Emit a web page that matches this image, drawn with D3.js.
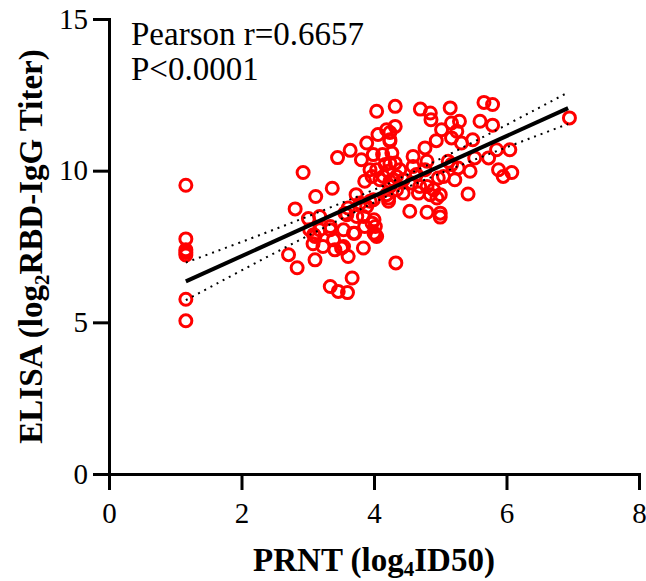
<!DOCTYPE html>
<html>
<head>
<meta charset="utf-8">
<script src="https://cdn.jsdelivr.net/npm/d3@7"></script>
<style>
  body { margin: 0; background: #fff; }
  text { font-family: "Liberation Serif", "Times New Roman", serif; }
</style>
</head>
<body>
<div id="chart"></div>
<script>
// PRNT (log4 ID50) values
var prntValues = [
  1.16, 1.16, 1.16, 1.16, 1.16, 1.16, 1.16,
  2.71, 2.84, 2.93, 2.81, 3.01, 3.18, 3.12, 3.37, 3.45, 3.64,
  3.09, 3.08, 3.11, 3.18, 3.34, 3.39, 3.54, 3.61, 3.54,
  3.34, 3.46, 3.60, 3.67, 3.84, 3.71, 3.61, 3.59, 3.73, 3.89,
  3.97, 4.00, 4.04, 3.84, 3.86, 3.81, 3.89, 4.04, 4.32, 4.06,
  4.24, 4.32, 4.19, 3.94, 4.04, 4.14, 4.24, 4.29, 4.22, 4.33, 3.99,
  4.70, 4.85, 4.86, 5.15, 5.66, 5.79, 6.95, 5.60, 5.79, 5.17, 5.29,
  5.25, 5.02, 5.17, 5.32, 5.49, 4.94, 4.77, 4.24, 4.24, 3.99, 4.13,
  4.27, 4.32, 4.17, 4.22, 3.97, 4.09, 4.24, 4.34, 4.39, 4.44, 4.24,
  4.34, 4.19, 4.22, 4.44, 4.54, 4.59, 4.59, 4.64, 4.57, 4.80, 4.77,
  4.69, 4.67, 4.80, 4.85, 4.90, 4.95, 5.00, 4.80, 5.00, 5.00, 4.97,
  5.05, 5.12, 5.17, 5.27, 5.22, 5.45, 5.42, 5.52, 5.73, 5.85, 6.05,
  5.88, 5.95, 6.08, 3.03, 3.11, 3.34, 3.69, 3.23, 3.41, 3.51, 3.79,
  3.94, 4.00, 4.02, 4.02, 3.86, 3.74, 3.56
];
// ELISA (log2 RBD-IgG titer) values, same order
var elisaValues = [
  9.52, 7.75, 7.39, 7.30, 7.22, 5.76, 5.05,
  7.23, 6.80, 9.94, 8.74, 8.42, 8.49, 9.15, 9.42, 10.43, 10.67,
  7.89, 7.59, 7.06, 8.05, 8.05, 7.72, 7.50, 7.17, 8.05,
  6.18, 6.02, 5.98, 6.46, 7.45, 7.94, 8.77, 8.55, 9.21, 8.82,
  8.27, 7.94, 7.83, 8.49, 9.65, 10.36, 10.91, 11.96, 12.12, 11.19,
  11.02, 11.46, 11.35, 10.03, 10.03, 9.81, 10.25, 9.70, 9.10, 6.96, 9.04,
  12.03, 11.90, 11.68, 12.07, 12.25, 12.18, 11.74, 11.63, 11.50, 11.57, 11.63,
  11.30, 11.35, 11.08, 10.91, 11.02, 10.99, 10.75, 11.26, 10.97, 10.53, 10.53,
  10.58, 10.25, 10.20, 9.98, 9.81, 9.70, 9.65, 9.81, 10.03, 9.70, 9.48,
  9.37, 9.21, 8.99, 9.26, 8.66, 10.47, 10.14, 9.87, 9.59, 10.31, 10.03,
  9.48, 9.26, 9.48, 9.21, 9.37, 9.10, 9.21, 8.63, 8.60, 8.47, 9.76,
  9.81, 10.31, 10.20, 10.09, 9.70, 9.98, 9.23, 10.42, 10.42, 10.69, 10.69,
  10.03, 9.81, 9.94, 8.05, 7.83, 8.16, 7.94, 7.50, 7.39, 7.45, 8.93,
  8.99, 8.38, 8.16, 7.89, 8.16, 8.49, 8.60
];

// fitted line and 95% band
var fitX = [1.16, 6.93];
var fitY = [6.35, 12.06];
var bandX = [1.16, 2, 3, 4, 4.32, 5, 6, 6.93];
var bandUpper = [6.97, 7.65, 8.49, 9.37, 9.68, 10.39, 11.51, 12.58];
var bandLower = [5.73, 6.71, 7.85, 8.95, 9.28, 9.91, 10.77, 11.54];

var xTicks = [0, 2, 4, 6, 8];
var yTicks = [0, 5, 10, 15];

var w = 646, h = 581;

var svg = d3.select("#chart").append("svg")
    .attr("width", w)
    .attr("height", h);

var xScale = d3.scaleLinear().domain([0, 8]).range([109, 639]);
var yScale = d3.scaleLinear().domain([0, 15]).range([474, 19]);

var points = prntValues.map((d, i) => ({x: d, y: elisaValues[i]}));

// scatter
svg.selectAll(".dot")
    .data(points)
    .enter().append("circle")
    .attr("class", "dot")
    .attr("cx", d => xScale(d.x))
    .attr("cy", d => yScale(d.y))
    .attr("r", 6)
    .style("fill", "none")
    .style("stroke", "#ff0000")
    .style("stroke-width", 3);

// confidence band (dotted)
var bandLine = d3.line()
    .x(d => xScale(d[0]))
    .y(d => yScale(d[1]))
    .curve(d3.curveNatural);

[bandUpper, bandLower].forEach(function(arr) {
    svg.append("path")
        .datum(bandX.map((x, i) => [x, arr[i]]))
        .attr("d", bandLine)
        .style("fill", "none")
        .style("stroke", "#000")
        .style("stroke-width", 2)
        .style("stroke-dasharray", "2,5");
});

// regression line
svg.append("path")
    .datum(fitX.map((x, i) => [x, fitY[i]]))
    .attr("d", d3.line().x(d => xScale(d[0])).y(d => yScale(d[1])))
    .style("fill", "none")
    .style("stroke", "#000")
    .style("stroke-width", 4);

// axes
var xAxis = svg.append("g")
    .attr("transform", `translate(0,${yScale(0)})`)
    .call(d3.axisBottom(xScale).tickValues(xTicks).tickSize(16).tickPadding(12).tickSizeOuter(0));

var yAxis = svg.append("g")
    .attr("transform", `translate(${xScale(0)},0)`)
    .call(d3.axisLeft(yScale).tickValues(yTicks).tickSize(16).tickPadding(5).tickSizeOuter(0));

[xAxis, yAxis].forEach(function(g) {
    g.select(".domain").style("stroke", "#000").style("stroke-width", 3).style("stroke-linecap", "square");
    g.selectAll(".tick line").style("stroke", "#000").style("stroke-width", 3);
    g.selectAll(".tick text")
        .style("font-family", '"Liberation Serif", "Times New Roman", serif')
        .style("font-size", "29px")
        .style("fill", "#000");
});

// x axis title
var xTitle = svg.append("text")
    .attr("x", (xScale(0) + xScale(8)) / 2)
    .attr("y", 571)
    .attr("text-anchor", "middle")
    .style("font-size", "33px")
    .style("font-weight", "bold");
xTitle.append("tspan").text("PRNT (log");
xTitle.append("tspan").attr("dy", 5).style("font-size", "21px").text("4");
xTitle.append("tspan").attr("dy", -5).text("ID50)");

// y axis title
var yTitle = svg.append("text")
    .attr("transform", "rotate(-90)")
    .attr("x", -(yScale(0) + yScale(15)) / 2)
    .attr("y", 42)
    .attr("text-anchor", "middle")
    .style("font-size", "33px")
    .style("font-weight", "bold");
yTitle.append("tspan").text("ELISA (log");
yTitle.append("tspan").attr("dy", 7).style("font-size", "21px").text("2");
yTitle.append("tspan").attr("dy", -7).text("RBD-IgG Titer)");

// stats text
svg.append("text")
    .attr("x", 131)
    .attr("y", 45)
    .style("font-size", "33px")
    .text("Pearson r=0.6657");
svg.append("text")
    .attr("x", 131)
    .attr("y", 80)
    .style("font-size", "33px")
    .text("P<0.0001");
</script>
</body>
</html>
